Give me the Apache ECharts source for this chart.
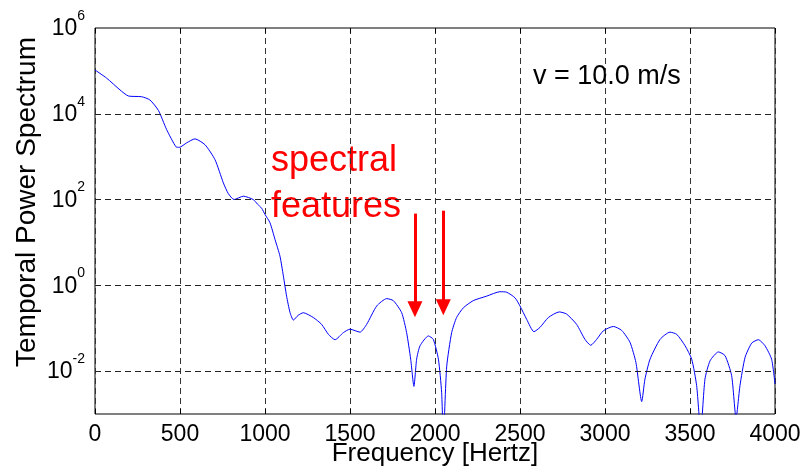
<!DOCTYPE html>
<html>
<head>
<meta charset="utf-8">
<script src="https://cdn.jsdelivr.net/npm/echarts@6/dist/echarts.min.js"></script>
<style>
  html, body { margin: 0; padding: 0; background: #fff; }
  #chart { width: 803px; height: 468px; }
</style>
</head>
<body>
<div id="chart"></div>
<script>
// Temporal power spectrum at v = 10.0 m/s
const frequency = [
  0, 68, 147, 196, 274, 323, 373, 421, 476, 496, 539, 588, 647, 706, 755, 784, 818,
  873, 931, 955, 980, 1000, 1029, 1059, 1088, 1108, 1127, 1147, 1167, 1195, 1225,
  1284, 1333, 1373, 1412, 1461, 1500, 1559, 1598, 1657, 1716, 1755, 1804, 1833,
  1857, 1876, 1892, 1912, 1961, 1990, 2020, 2039, 2049, 2069, 2098, 2127, 2167,
  2225, 2304, 2382, 2422, 2471, 2500, 2539, 2582, 2618, 2667, 2731, 2774, 2833,
  2882, 2916, 2951, 2990, 3049, 3098, 3147, 3182, 3216, 3235, 3265, 3324, 3382,
  3422, 3471, 3510, 3539, 3563, 3588, 3618, 3667, 3706, 3745, 3771, 3794, 3824,
  3863, 3902, 3941, 3980, 4000
];
const power = [
  1.05e5, 6.8e4, 3.6e4, 2.6e4, 2.5e4, 2.1e4, 1.2e4, 4.3e3, 1.7e3, 1.65e3, 2.1e3, 2.6e3, 1.9e3, 850, 245, 138, 100,
  120, 100, 79, 63, 45, 29, 11.7, 4.8, 1.66, 0.56, 0.234, 0.155, 0.2, 0.23,
  0.178, 0.123, 0.072, 0.054, 0.079, 0.095, 0.081, 0.123, 0.33, 0.49, 0.44, 0.23, 0.079,
  0.019, 0.0044, 0.019, 0.039, 0.066, 0.055, 0.019, 0.0032, 0.0003, 0.013, 0.079, 0.178, 0.30,
  0.44, 0.56, 0.71, 0.69, 0.51, 0.33, 0.162, 0.083, 0.105, 0.178, 0.24, 0.214, 0.123,
  0.055, 0.040, 0.055, 0.087, 0.110, 0.089, 0.047, 0.0158, 0.00195, 0.0065, 0.019, 0.055, 0.081,
  0.072, 0.039, 0.019, 0.0046, 0.0004, 0.0065, 0.0174, 0.028, 0.023, 0.0078, 0.0008, 0.0046, 0.021,
  0.045, 0.054, 0.039, 0.019, 0.005
];
// Decades that carry a label and a dashed grid line
const labelledDecades = [1e-2, 1, 1e2, 1e4, 1e6];
const gridDecades = [1e-2, 1, 1e2, 1e4];
// Arrows pointing at the two spectral features: [frequency, top, tip]
const featureArrows = [
  [1882, 47, 0.276],
  [2049, 55, 0.31]
];

const FONT = '"Liberation Sans", Arial, Helvetica, sans-serif';
const chart = echarts.init(document.getElementById('chart'), null, { renderer: 'canvas' });

const xAxisBase = {
  type: 'value', min: 0, max: 4000, interval: 500,
  axisLine: { show: false },
  axisTick: { show: true, inside: true, length: 5, lineStyle: { color: '#000' } }
};

chart.setOption({
  animation: false,
  backgroundColor: '#fff',
  grid: {
    left: 95, right: 28, top: 28, bottom: 54,
    containLabel: false, outerBoundsMode: 'none',
    show: true, borderColor: '#000', borderWidth: 1, backgroundColor: 'transparent'
  },
  xAxis: [
    Object.assign({}, xAxisBase, {
      position: 'bottom',
      name: 'Frequency [Hertz]',
      nameLocation: 'middle',
      nameGap: 27,
      nameMoveOverlap: false,
      nameTextStyle: { fontFamily: FONT, fontSize: 26, color: '#000' },
      axisLabel: { fontFamily: FONT, fontSize: 23, color: '#000', margin: 9,
                   formatter: v => String(v) },
      splitLine: { show: true, lineStyle: { color: '#333', width: 1, type: [6, 4] } }
    }),
    Object.assign({}, xAxisBase, {
      position: 'top',
      axisLabel: { show: false },
      splitLine: { show: false }
    })
  ],
  yAxis: {
    type: 'log', logBase: 10, min: 1e-3, max: 1e6,
    axisLine: { show: false },
    axisTick: { show: false },
    splitLine: { show: false },
    axisLabel: {
      margin: 10,
      formatter: function (v) {
        const e = Math.round(Math.log10(v));
        const hit = labelledDecades.some(d => Math.abs(Math.log10(d) - e) < 1e-6);
        return hit ? '{b|10}{s|' + e + '}' : '';
      },
      rich: {
        b: { fontFamily: FONT, fontSize: 23, color: '#000', padding: [2, 0, 0, 0] },
        s: { fontFamily: FONT, fontSize: 14, color: '#000', padding: [0, 0, 24, 0] }
      }
    }
  },
  graphic: [
    {
      type: 'text', x: 27, y: 202, rotation: Math.PI / 2,
      style: { text: 'Temporal Power Spectrum', fontFamily: FONT, fontSize: 28, fill: '#000',
               align: 'center', verticalAlign: 'middle' }
    },
    {
      type: 'text', x: 533, y: 77,
      style: { text: 'v = 10.0 m/s', fontFamily: FONT, fontSize: 27, fill: '#000',
               align: 'left', verticalAlign: 'middle' }
    },
    {
      type: 'text', x: 271, y: 161,
      style: { text: 'spectral', fontFamily: FONT, fontSize: 36, fill: '#ff0000',
               align: 'left', verticalAlign: 'middle' }
    },
    {
      type: 'text', x: 271, y: 207,
      style: { text: 'features', fontFamily: FONT, fontSize: 36, fill: '#ff0000',
               align: 'left', verticalAlign: 'middle' }
    }
  ],
  series: [
    {
      // horizontal dashed grid at the labelled decades
      type: 'line', data: [], silent: true,
      markLine: {
        silent: true, symbol: 'none', label: { show: false },
        lineStyle: { color: '#222', width: 1, type: [6, 4] },
        data: gridDecades.map(d => ({ yAxis: d }))
      }
    },
    {
      type: 'line',
      data: frequency.map((f, i) => [f, power[i]]),
      showSymbol: false,
      smooth: 0.2,
      clip: true,
      lineStyle: { color: '#0000ff', width: 1 },
      markLine: {
        silent: true, animation: false,
        symbol: ['none', 'triangle'], symbolSize: [15, 16],
        label: { show: false },
        lineStyle: { color: '#ff0000', width: 3, type: 'solid' },
        data: featureArrows.map(a => [
          { coord: [a[0], a[1]] },
          { coord: [a[0], a[2]] }
        ])
      }
    }
  ]
});
</script>
</body>
</html>
